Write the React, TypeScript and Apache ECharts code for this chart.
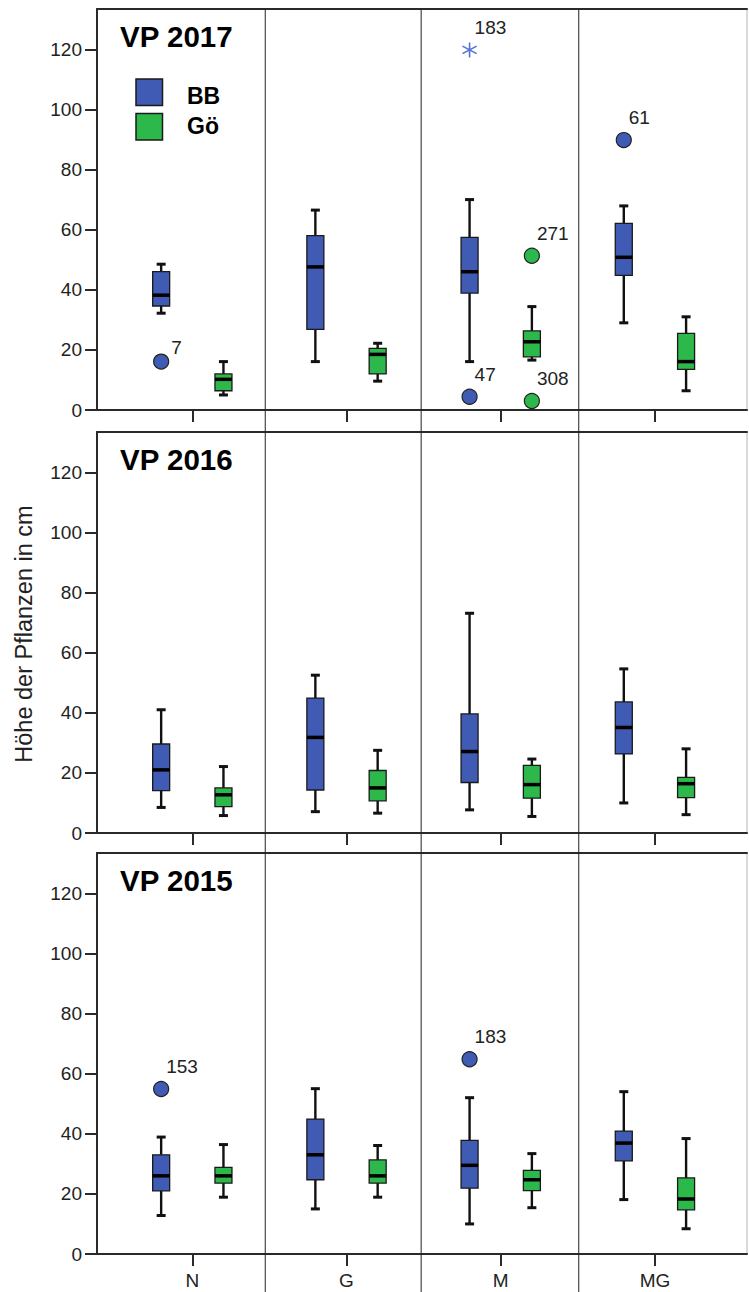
import React, { useEffect, useRef } from 'react';
import * as echarts from 'echarts';

const categories = ['N', 'G', 'M', 'MG'];
const groupNames = ['BB', 'Gö'];
const panelTitles = ['VP 2017', 'VP 2016', 'VP 2015'];
const yAxisTitle = 'Höhe der Pflanzen in cm';
const yTickValues = [0, 20, 40, 60, 80, 100, 120];
const xTickValues = [0, 1, 2, 3];
const yMax = 133.4;
const categoryBoundaries = [0.473, 1.484, 2.506];

// [lower whisker, Q1, median, Q3, upper whisker] per category N, G, M, MG
const bb2017 = [
  [32.2, 34.6, 38.2, 46.0, 48.5],
  [16.1, 26.8, 47.6, 58.0, 66.5],
  [16.1, 38.9, 46.0, 57.4, 70.0],
  [29.0, 44.8, 50.8, 62.1, 67.9],
];
const go2017 = [
  [5.0, 6.4, 10.2, 12.0, 16.1],
  [9.6, 12.0, 18.5, 20.5, 22.2],
  [16.6, 17.7, 22.7, 26.3, 34.4],
  [6.4, 13.5, 16.1, 25.5, 31.0],
];
const bb2016 = [
  [8.5, 14.1, 21.0, 29.6, 41.0],
  [7.1, 14.3, 31.8, 44.9, 52.5],
  [7.7, 16.8, 27.1, 39.6, 73.1],
  [10.0, 26.3, 35.1, 43.6, 54.6],
];
const go2016 = [
  [5.8, 8.8, 12.7, 15.0, 22.1],
  [6.6, 10.7, 15.0, 20.8, 27.5],
  [5.5, 11.6, 16.1, 22.5, 24.6],
  [6.1, 11.8, 16.4, 18.5, 28.0],
];
const bb2015 = [
  [12.8, 21.0, 26.0, 33.0, 38.9],
  [15.0, 24.7, 33.0, 44.9, 55.0],
  [10.0, 21.9, 29.5, 37.8, 52.0],
  [18.1, 31.0, 36.9, 40.9, 54.0],
];
const go2015 = [
  [18.9, 23.6, 26.0, 28.8, 36.4],
  [18.9, 23.6, 26.0, 31.3, 36.1],
  [15.4, 21.1, 24.7, 27.8, 33.4],
  [8.4, 14.7, 18.3, 25.3, 38.4],
];

// outliers: [category index, group index (0 BB, 1 Gö), value, case number, marker]
const out2017: any[] = [
  [0, 0, 16.1, '7', 'circle'],
  [2, 0, 119.8, '183', 'star'],
  [2, 0, 4.4, '47', 'circle'],
  [2, 1, 51.3, '271', 'circle'],
  [2, 1, 3.0, '308', 'circle'],
  [3, 0, 89.8, '61', 'circle'],
];
const out2016: any[] = [];
const out2015: any[] = [
  [0, 0, 54.9, '153', 'circle'],
  [2, 0, 64.8, '183', 'circle'],
];

const panels = [
  { title: panelTitles[0], bb: bb2017, go: go2017, out: out2017 },
  { title: panelTitles[1], bb: bb2016, go: go2016, out: out2016 },
  { title: panelTitles[2], bb: bb2015, go: go2015, out: out2015 },
];

const FONT = "'Liberation Sans', Arial, Helvetica, sans-serif";
const BLUE = '#3F5BB4';
const GREEN = '#2DB84B';
const STAR_COLOR = '#5673D6';
const AXIS = '#2a2a2a';
const TEXT = '#222';
const groupColors = [BLUE, GREEN];
const groupOffset = [-0.202, 0.202];
const gridTops = [9, 432, 853];
const gridHeight = 401;
const gridLeft = 97;
const gridWidth = 650;
const xMin = -0.618;
const xMax = 3.597;

const STAR =
  'path://M-1,10L1,10L1,-10L-1,-10Z' +
  'M8.16,5.87L9.16,4.13L-8.16,-5.87L-9.16,-4.13Z' +
  'M-9.16,4.13L-8.16,5.87L9.16,-4.13L8.16,-5.87Z';

function makeRender(color: string) {
  return (params: any, api: any) => {
    const x = api.value(0);
    const pLo = api.coord([x, api.value(1)]);
    const pQ1 = api.coord([x, api.value(2)]);
    const pMed = api.coord([x, api.value(3)]);
    const pQ3 = api.coord([x, api.value(4)]);
    const pHi = api.coord([x, api.value(5)]);
    const cx = pLo[0];
    const bw = 17;
    const cw = 9;
    const wStyle = { stroke: '#111', lineWidth: 2.4 };
    const cStyle = { stroke: '#111', lineWidth: 3 };
    return {
      type: 'group',
      children: [
        { type: 'line', shape: { x1: cx, y1: pHi[1], x2: cx, y2: pQ3[1] }, style: wStyle },
        { type: 'line', shape: { x1: cx, y1: pQ1[1], x2: cx, y2: pLo[1] }, style: wStyle },
        { type: 'line', shape: { x1: cx - cw / 2, y1: pHi[1], x2: cx + cw / 2, y2: pHi[1] }, style: cStyle },
        { type: 'line', shape: { x1: cx - cw / 2, y1: pLo[1], x2: cx + cw / 2, y2: pLo[1] }, style: cStyle },
        {
          type: 'rect',
          shape: { x: cx - bw / 2, y: pQ3[1], width: bw, height: pQ1[1] - pQ3[1] },
          style: { fill: color, stroke: '#1a1a1a', lineWidth: 1.3 },
        },
        {
          type: 'line',
          shape: { x1: cx - bw / 2, y1: pMed[1], x2: cx + bw / 2, y2: pMed[1] },
          style: { stroke: '#000', lineWidth: 3.5 },
        },
      ],
    };
  };
}

export default function App() {
  const ref = useRef<HTMLDivElement>(null);
  useEffect(() => {
    if (!ref.current) return;
    const chart = echarts.init(ref.current, null, { renderer: 'svg' });

    const grids: any[] = [];
    const xAxes: any[] = [];
    const yAxes: any[] = [];
    const series: any[] = [];

    panels.forEach((p, i) => {
      grids.push({
        left: gridLeft,
        top: gridTops[i],
        width: gridWidth,
        height: gridHeight,
        show: true,
        borderColor: '#b5b5b5',
        borderWidth: 1,
        backgroundColor: 'transparent',
      });
      xAxes.push({
        type: 'value',
        gridIndex: i,
        min: xMin,
        max: xMax,
        position: 'bottom',
        axisLine: { show: true, onZero: false, lineStyle: { color: AXIS, width: 2 } },
        axisTick: { show: true, customValues: xTickValues, length: 12, lineStyle: { color: AXIS, width: 2 } },
        axisLabel: {
          show: i === 2,
          customValues: xTickValues,
          formatter: (v: number) => categories[Math.round(v)] ?? '',
          fontSize: 19,
          color: TEXT,
          fontFamily: FONT,
          margin: 17,
        },
        splitLine: { show: false },
      });
      xAxes.push({
        type: 'value',
        gridIndex: i,
        min: xMin,
        max: xMax,
        position: 'top',
        axisLine: { show: true, onZero: false, lineStyle: { color: AXIS, width: 2 } },
        axisTick: { show: false },
        axisLabel: { show: false },
        splitLine: { show: false },
      });
      yAxes.push({
        type: 'value',
        gridIndex: i,
        min: 0,
        max: yMax,
        position: 'left',
        axisLine: { show: true, onZero: false, lineStyle: { color: AXIS, width: 2 } },
        axisTick: { show: true, customValues: yTickValues, length: 12, lineStyle: { color: AXIS, width: 2 } },
        axisLabel: {
          customValues: yTickValues,
          fontSize: 19,
          color: TEXT,
          fontFamily: FONT,
          margin: 15,
        },
        splitLine: { show: false },
      });

      [p.bb, p.go].forEach((stats, g) => {
        series.push({
          type: 'custom',
          name: groupNames[g],
          xAxisIndex: i * 2,
          yAxisIndex: i,
          renderItem: makeRender(groupColors[g]),
          data: stats.map((s, c) => [c + groupOffset[g], ...s]),
          encode: { x: 0, y: [1, 2, 3, 4, 5] },
          clip: false,
          z: 3,
        });
      });

      series.push({
        type: 'scatter',
        xAxisIndex: i * 2,
        yAxisIndex: i,
        z: 4,
        data: p.out.map(([c, g, v, lab, mk]: any[]) => ({
          value: [c + groupOffset[g], v],
          name: lab,
          symbol: mk === 'star' ? STAR : 'circle',
          symbolSize: 15,
          itemStyle:
            mk === 'star'
              ? { color: STAR_COLOR, borderWidth: 0, opacity: 1 }
              : { color: groupColors[g], borderColor: '#222', borderWidth: 1.2, opacity: 1 },
          label: lab === '7' ? { offset: [10, 8] } : undefined,
        })),
        itemStyle: { opacity: 1 },
        label: {
          show: true,
          formatter: '{b}',
          position: 'top',
          align: 'left',
          distance: 5,
          offset: [5, 0],
          fontSize: 19,
          color: TEXT,
          fontFamily: FONT,
        },
      });
    });

    chart.setOption({
      animation: false,
      backgroundColor: '#ffffff',
      grid: grids,
      xAxis: xAxes,
      yAxis: yAxes,
      series,
    });

    const sepX = categoryBoundaries.map((b) => chart.convertToPixel({ xAxisIndex: 0 } as any, b) as number);
    const graphics: any[] = [];
    sepX.forEach((x, k) => {
      graphics.push({
        type: 'line',
        id: 'sep' + k,
        shape: { x1: x, y1: gridTops[0], x2: x, y2: 1292 },
        style: { stroke: '#222', lineWidth: 1 },
        z: 5,
      });
    });
    panels.forEach((p, i) => {
      graphics.push({
        type: 'text',
        id: 'title' + i,
        x: 120,
        y: gridTops[i] + 27,
        style: {
          text: p.title,
          fill: '#000',
          font: `bold 29.5px ${FONT}`,
          verticalAlign: 'middle',
          align: 'left',
        },
        z: 6,
      });
    });
    groupNames.forEach((n, g) => {
      graphics.push({
        type: 'rect',
        id: 'legrect' + g,
        shape: { x: 136, y: 79 + g * 34.5, width: 26.5, height: 26.5 },
        style: { fill: groupColors[g], stroke: '#1a1a1a', lineWidth: 1.5 },
        z: 6,
      });
      graphics.push({
        type: 'text',
        id: 'legtext' + g,
        x: 187,
        y: 96 + g * 30,
        style: {
          text: n,
          fill: '#000',
          font: `bold 23px ${FONT}`,
          verticalAlign: 'middle',
          align: 'left',
        },
        z: 6,
      });
    });
    graphics.push({
      type: 'text',
      id: 'ytitle',
      x: 24,
      y: 634,
      rotation: Math.PI / 2,
      style: {
        text: yAxisTitle,
        fill: TEXT,
        font: `23.5px ${FONT}`,
        verticalAlign: 'middle',
        align: 'center',
      },
      z: 6,
    });
    chart.setOption({ graphic: graphics });

    return () => chart.dispose();
  }, []);

  return (
    <div
      ref={ref}
      style={{ position: 'fixed', left: 0, top: 0, width: 749, height: 1292, background: '#fff' }}
    />
  );
}
